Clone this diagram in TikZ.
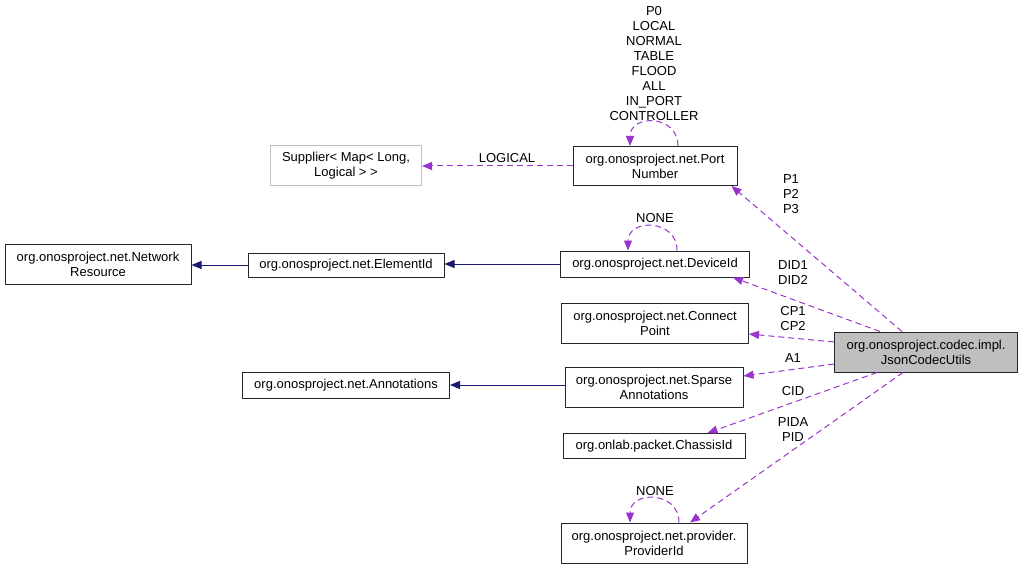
\documentclass[tikz,border=0pt]{standalone}
\usepackage{fontspec}
\setmainfont{Liberation Sans}
\usetikzlibrary{arrows.meta,calc}

\definecolor{depcol}{HTML}{9A32CD}
\definecolor{inhcol}{HTML}{191970}
\definecolor{boxgray}{HTML}{BFBFBF}

\tikzset{
  cls/.style={draw=black!85, fill=white, align=center, inner sep=0pt,
    line width=1pt, font=\fontsize{13}{15}\selectfont},
  lbl/.style={align=center, inner sep=0pt, font=\fontsize{13}{15}\selectfont},
  dep/.style={draw=depcol, line width=1pt, dash pattern=on 6pt off 4pt,
    -{Triangle[length=10pt,width=8pt,fill=depcol]}},
  inh/.style={draw=inhcol, line width=1pt,
    -{Triangle[length=10pt,width=8pt,fill=inhcol]}}
}

\begin{document}
\begin{tikzpicture}[x=1pt,y=-1pt,line join=round]
\useasboundingbox (0,0) rectangle (1024,569);

% class boxes
\node[cls, minimum width=164, minimum height=39] (port) at (655,166) {org.onosproject.net.Port\\Number};
\node[cls, draw=boxgray, minimum width=151, minimum height=40] (supplier) at (346,166) {Supplier< Map< Long,\\Logical > >};
\node[cls, minimum width=186, minimum height=40] (netres) at (98,264) {org.onosproject.net.Network\\Resource};
\node[cls, minimum width=196, minimum height=24] (elem) at (346,265) {org.onosproject.net.ElementId};
\node[cls, minimum width=189, minimum height=26] (devid) at (655,264) {org.onosproject.net.DeviceId};
\node[cls, minimum width=187, minimum height=40] (connect) at (655,323) {org.onosproject.net.Connect\\Point};
\node[cls, fill=boxgray, minimum width=183, minimum height=40] (json) at (926,352) {org.onosproject.codec.impl.\\JsonCodecUtils};
\node[cls, minimum width=207, minimum height=26] (annot) at (346,385) {org.onosproject.net.Annotations};
\node[cls, minimum width=178, minimum height=40] (sparse) at (654,387) {org.onosproject.net.Sparse\\Annotations};
\node[cls, minimum width=182, minimum height=25] (chassis) at (654,446) {org.onlab.packet.ChassisId};
\node[cls, minimum width=186, minimum height=40] (provider) at (654,543) {org.onosproject.net.provider.\\ProviderId};

% inheritance
\draw[inh] (elem.west) -- (netres.east |- elem.west);
\draw[inh] (devid.west) -- (elem.east |- devid.west);
\draw[inh] (sparse.west |- annot.east) -- (annot.east);

% usage
\draw[dep] (port.west) -- (supplier.east);
\node[lbl] (lblLogical) at (507,158) {LOGICAL};

\draw[dep] ($(port.north)+(23,0)$) .. controls +(0,-32) and +(0,-32) .. ($(port.north)+(-25,0)$);
\node[lbl] (lblPort) at (654,64) {P0\\LOCAL\\NORMAL\\TABLE\\FLOOD\\ALL\\IN\_PORT\\CONTROLLER};

\draw[dep] ($(devid.north)+(22,0)$) .. controls +(0,-32) and +(0,-32) .. ($(devid.north)+(-27,0)$);
\node[lbl] (lblDevNone) at (655,218) {NONE};

\draw[dep] ($(provider.north)+(25,0)$) .. controls +(0,-32) and +(0,-32) .. ($(provider.north)+(-24,0)$);
\node[lbl] (lblProvNone) at (655,491) {NONE};

\draw[dep] ($(json.north)+(-24,0)$) -- ($(port.south east)+(-6,0)$);
\node[lbl] (lblP) at (791,194) {P1\\P2\\P3};

\draw[dep] ($(json.north)+(-46,0)$) -- ($(devid.south east)+(-17,0)$);
\node[lbl] (lblDid) at (793,273) {DID1\\DID2};

\draw[dep] ($(json.west)+(0,-10)$) -- ($(connect.east)+(0,11)$);
\node[lbl] (lblCp) at (793,319) {CP1\\CP2};

\draw[dep] ($(json.west)+(0,12)$) -- ($(sparse.east)+(0,-11)$);
\node[lbl] (lblA) at (793,358) {A1};

\draw[dep] ($(json.south)+(-49,0)$) -- ($(chassis.north east)+(-38,0)$);
\node[lbl] (lblCid) at (793,391) {CID};

\draw[dep] ($(json.south)+(-23,0)$) -- ($(provider.north)+(36,0)$);
\node[lbl] (lblPid) at (793,430) {PIDA\\PID};

\end{tikzpicture}
\end{document}
